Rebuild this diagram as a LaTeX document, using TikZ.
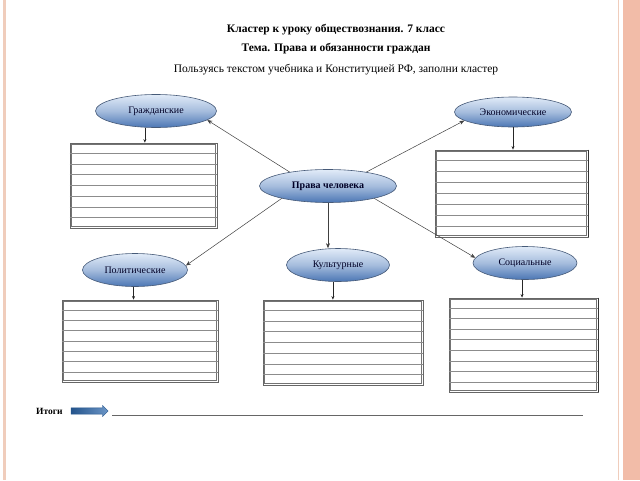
\documentclass[tikz,border=0pt]{standalone}
\usepackage{fontspec}
\setmainfont{Liberation Serif}
\usetikzlibrary{shapes.geometric,shapes.arrows,arrows.meta,calc}
\definecolor{salmon}{RGB}{242,188,168}
\definecolor{salmonlight}{RGB}{240,205,188}
\definecolor{ellborder}{RGB}{70,90,120}
\definecolor{elltop}{RGB}{225,235,248}
\definecolor{ellbot}{RGB}{75,118,180}
\definecolor{arrblue}{RGB}{45,105,175}
\tikzset{
  bubble/.style={ellipse, draw=ellborder, line width=0.6pt, top color=elltop, bottom color=ellbot, middle color=elltop!60!ellbot, inner sep=0pt, font=\fontsize{10}{11}\selectfont, text=black!85!blue},
  lbox/.style={rectangle, draw=black!60, line width=0.8pt, inner sep=0pt},
  rule/.style={draw=black!45, line width=0.6pt},
  conn/.style={draw=black!75, line width=0.5pt, -{Stealth[length=5pt,width=4pt]}},
  down/.style={draw=black!85, line width=0.6pt, -{Stealth[length=3.5pt,width=3pt]}},
  titlef/.style={font=\fontsize{11.5}{13}\selectfont\bfseries},
}
\newcommand{\lines}[2]{%
  \draw[black!55, line width=0.5pt] ($(#1.north west)+(2,2)$) rectangle ($(#1.south east)+(-2,-2)$);
  \foreach \i in {1,...,#2}{
    \draw[rule] ($(#1.north west)!\i/(#2+1)!(#1.south west)$) -- ($(#1.north east)!\i/(#2+1)!(#1.south east)$);
  }%
}
\begin{document}
\begin{tikzpicture}[x=1pt,y=-1pt]
\useasboundingbox (0,0) rectangle (640,480);
\fill[white] (0,0) rectangle (640,480);
% side decorations
\fill[salmon] (623,0) rectangle (640,480);
\fill[salmonlight] (3,0) rectangle (6,480);
\draw[salmonlight, line width=0.6pt] (618,0) -- (618,480);

% titles
\node[titlef] (t1) at (336,30) {Кластер к уроку обществознания. 7 класс};
\node[titlef] (t2) at (336,49) {Тема. Права и обязанности граждан};
\node[font=\fontsize{11.5}{13}\selectfont] (t3) at (336,70) {Пользуясь текстом учебника и Конституцией РФ, заполни кластер};

% ellipses
\node[bubble, minimum width=121, minimum height=33] (civ) at (156,111) {Гражданские};
\node[bubble, minimum width=117, minimum height=30] (eco) at (513,112) {Экономические};
\node[bubble, minimum width=137, minimum height=33, font=\fontsize{10}{11}\selectfont\bfseries] (pc) at (328,186) {Права человека};
\node[bubble, minimum width=105, minimum height=33] (pol) at (135,270) {Политические};
\node[bubble, minimum width=103, minimum height=33] (cul) at (338,265) {Культурные};
\node[bubble, minimum width=104, minimum height=33] (soc) at (525,263) {Социальные};

% boxes
\node[lbox, minimum width=147, minimum height=85] (b1) at (143.5,185.5) {};
\node[lbox, minimum width=153, minimum height=87] (b2) at (511.5,193.5) {};
\node[lbox, minimum width=156, minimum height=82] (b3) at (140,341) {};
\node[lbox, minimum width=160, minimum height=85] (b4) at (343,342.5) {};
\node[lbox, minimum width=149, minimum height=94] (b5) at (523.5,345) {};
\lines{b1}{7}
\lines{b2}{7}
\lines{b3}{7}
\lines{b4}{7}
\lines{b5}{8}
\draw[black!80, line width=1.2pt] (b2.north east) -- (b2.south east);
\draw[black!80, line width=1.2pt] (b5.north east) -- (b5.south east);

% connectors from centre
\draw[conn] (pc.160) -- (civ.-10);
\draw[conn] (pc.20) -- (eco.190);
\draw[conn] (pc.195) -- (pol.5);
\draw[conn] (pc.south) -- (pc.south |- cul.north);
\draw[conn] (pc.-15) -- (soc.174);

% down arrows
\draw[down] (civ.236) -- (civ.236 |- b1.north);
\draw[down] (eco.south) -- (eco.south |- b2.north);
\draw[down] (pol.265) -- (pol.265 |- b3.north);
\draw[down] (cul.253) -- (cul.253 |- b4.north);
\draw[down] (soc.260) -- (soc.260 |- b5.north);

% results
\node[font=\fontsize{9.5}{11}\selectfont\bfseries, anchor=west, inner sep=0pt] (res) at (36,411) {Итоги};
\node[single arrow, minimum height=37, minimum width=11, single arrow head extend=1.5, inner sep=1.8pt, left color=arrblue!80!black, right color=arrblue!70!white, draw=arrblue!80!black, line width=0.3pt] (arr) at (88,411) {};
\coordinate (ls) at (112,415);
\coordinate (le) at (583,415);
\draw[black!60, line width=0.6pt] (ls) -- (le);
\end{tikzpicture}
\end{document}
